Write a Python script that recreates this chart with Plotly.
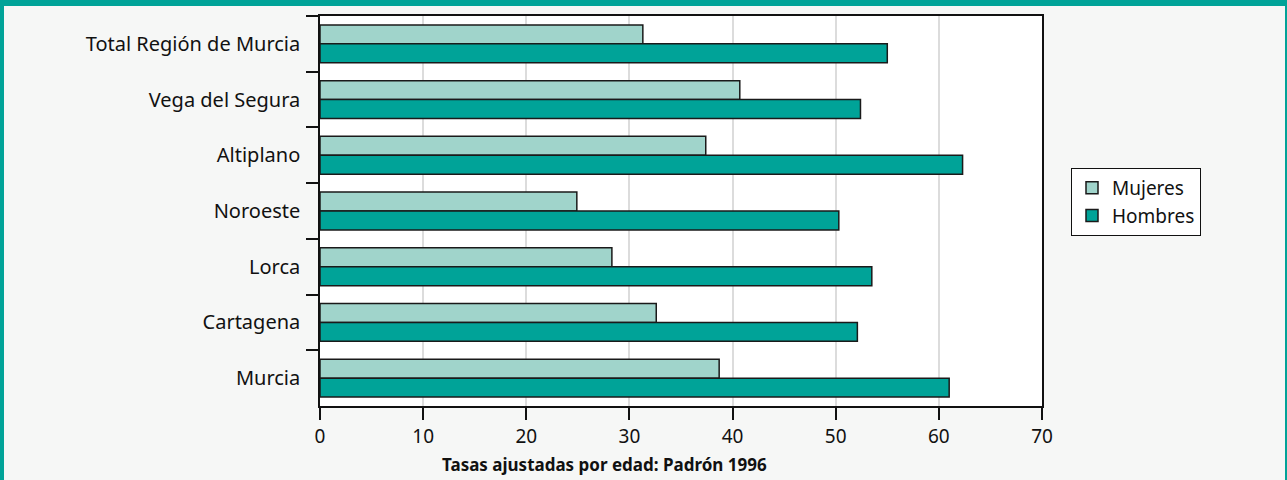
import plotly.graph_objects as go

categories = ["Total Región de Murcia", "Vega del Segura", "Altiplano", "Noroeste",
              "Lorca", "Cartagena", "Murcia"]
mujeres = [31.3, 40.7, 37.4, 24.9, 28.3, 32.6, 38.7]
hombres = [55.0, 52.4, 62.3, 50.3, 53.5, 52.1, 61.0]
x_ticks = [0, 10, 20, 30, 40, 50, 60, 70]

W, H = 1287, 480
L, R, T, B = 320, 1042, 16, 406
pw, ph = R - L, B - T

def px(x):
    return (x - L) / pw

def py(y):
    return (B - y) / ph

FONT = "Noto Sans"
TEAL = "#00a398"
LIGHT = "#a0d4cb"

fig = go.Figure()
fig.add_trace(go.Bar(y=categories, x=mujeres, name="Mujeres", orientation="h",
                     marker=dict(color=LIGHT, line=dict(color="#1a1a1a", width=1.5))))
fig.add_trace(go.Bar(y=categories, x=hombres, name="Hombres", orientation="h",
                     marker=dict(color=TEAL, line=dict(color="#1a1a1a", width=1.5))))

fig.update_layout(
    width=W, height=H,
    margin=dict(l=L, r=W - R, t=T, b=H - B, autoexpand=False),
    paper_bgcolor="#f6f7f6", plot_bgcolor="white",
    barmode="group", bargap=0.32, bargroupgap=0,
    font=dict(family=FONT, size=19, color="#111"),
    showlegend=True,
    legend=dict(x=px(1071), y=py(168), xanchor="left", yanchor="top",
                bgcolor="white", bordercolor="#111", borderwidth=1,
                entrywidth=140, entrywidthmode="pixels",
                font=dict(family=FONT, size=19)),
    xaxis=dict(range=[0, 70], tickvals=x_ticks, showgrid=True, gridcolor="#dcdcdc", gridwidth=1.5,
               showline=True, linecolor="#111", linewidth=1.5, mirror=True,
               ticks="outside", ticklen=12, tickwidth=1.5, tickcolor="#111",
               zeroline=False, tickfont=dict(size=19)),
    yaxis=dict(categoryorder="array", categoryarray=categories, autorange="reversed",
               tickson="boundaries", ticks="outside", ticklen=12, tickwidth=1.5, tickcolor="#111",
               showline=True, linecolor="#111", linewidth=1.5, mirror=True,
               showgrid=False, tickfont=dict(size=20), ticklabelstandoff=14),
    shapes=[
        dict(type="rect", xref="paper", yref="paper", x0=px(0), x1=px(W), y0=py(6), y1=py(0),
             fillcolor=TEAL, line=dict(width=0), layer="above"),
        dict(type="rect", xref="paper", yref="paper", x0=px(0), x1=px(4), y0=py(H), y1=py(0),
             fillcolor=TEAL, line=dict(width=0), layer="above"),
        dict(type="rect", xref="paper", yref="paper", x0=px(1285), x1=px(W), y0=py(H), y1=py(0),
             fillcolor=TEAL, line=dict(width=0), layer="above"),
    ],
    annotations=[
        dict(text="<b>Tasas ajustadas por edad: Padrón 1996</b>", xref="paper", yref="paper",
             x=px(604), y=py(465), xanchor="center", yanchor="middle", showarrow=False,
             font=dict(family=FONT, size=17, color="#111")),
    ],
)

fig.write_html("out.html")
